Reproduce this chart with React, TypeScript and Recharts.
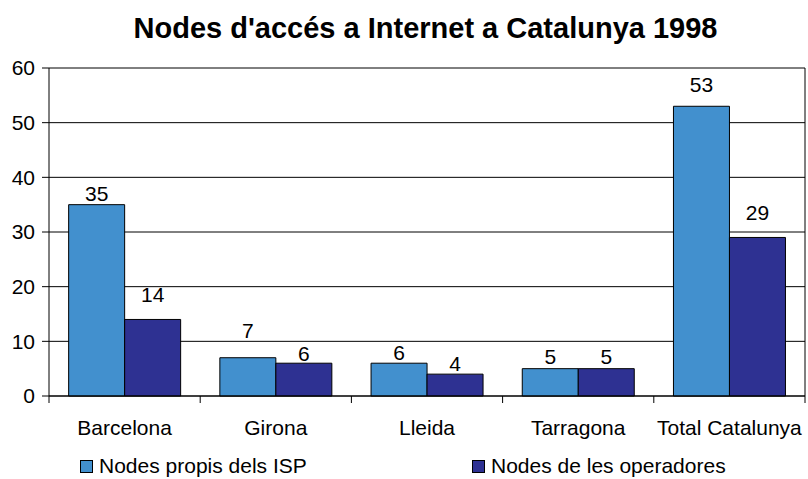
import React from "react";
import {
  BarChart,
  Bar,
  XAxis,
  YAxis,
  CartesianGrid,
  LabelList,
  Legend,
} from "recharts";

const categories = ["Barcelona", "Girona", "Lleida", "Tarragona", "Total Catalunya"];
const ispNodes = [35, 7, 6, 5, 53];
const operatorNodes = [14, 6, 4, 5, 29];
const yTicks = [0, 10, 20, 30, 40, 50, 60];
const seriesNames = ["Nodes propis dels ISP", "Nodes de les operadores"];

// label gaps above bar tops (styling, as placed in the original)
const ispLabelGap = [4, 20, 3, 5, 14];
const opsLabelGap = [17, 2, 3, 5, 17];

const data = categories.map((c, i) => ({
  name: c,
  isp: ispNodes[i],
  ops: operatorNodes[i],
}));

const FONT = "'Liberation Sans', Arial, Helvetica, sans-serif";
const LIGHT = "#4290CE";
const DARK = "#2E3192";

const EdgeTick = (props: any) => {
  const { x, y, payload, index, visibleTicksCount } = props;
  const half = payload.offset || 0;
  const isLast = index === visibleTicksCount - 1;
  return (
    <g>
      <line x1={x - half} x2={x - half} y1={y} y2={y + 7} stroke="#000" />
      {isLast && <line x1={x + half} x2={x + half} y1={y} y2={y + 7} stroke="#000" />}
      <text x={x} y={y + 24} dy="0.71em" textAnchor="middle" fontSize={21} fontFamily={FONT} fill="#000">
        {payload.value}
      </text>
    </g>
  );
};

const makeLabel = (gaps: number[]) => (props: any) => {
  const { x, y, width, value, index } = props;
  const gap = gaps[index] ?? 4;
  return (
    <text
      x={Number(x) + Number(width) / 2}
      y={Number(y) - gap}
      textAnchor="middle"
      fontSize={21}
      fontFamily={FONT}
      fill="#000"
    >
      {value}
    </text>
  );
};

const LegendContent = () => (
  <div style={{ position: "relative", width: 808, height: 26, fontFamily: FONT, fontSize: 21, color: "#000" }}>
    {[LIGHT, DARK].map((col, i) => (
      <div
        key={i}
        style={{
          position: "absolute",
          left: i === 0 ? 80 : 472,
          top: 0,
          display: "flex",
          alignItems: "center",
          whiteSpace: "nowrap",
          lineHeight: "26px",
        }}
      >
        <span
          style={{
            display: "inline-block",
            width: 11,
            height: 11,
            background: col,
            border: "1px solid #000",
            marginRight: 6,
          }}
        />
        <span>{seriesNames[i]}</span>
      </div>
    ))}
  </div>
);

export default function App() {
  return (
    <div style={{ position: "absolute", left: 0, top: 0, width: 808, height: 479, background: "#fff" }}>
      <div
        style={{
          position: "absolute",
          left: 0,
          top: 10,
          width: 851,
          textAlign: "center",
          fontFamily: FONT,
          fontWeight: "bold",
          fontSize: 29,
          lineHeight: "36px",
          color: "#000",
        }}
      >
        Nodes d'accés a Internet a Catalunya 1998
      </div>
      <BarChart
        width={808}
        height={479}
        data={data}
        margin={{ top: 68, right: 0, left: 0, bottom: 0 }}
        barCategoryGap="13%"
        barGap={0}
      >
        <CartesianGrid vertical={false} stroke="#000" strokeDasharray="" />
        <XAxis
          dataKey="name"
          height={57}
          axisLine={{ stroke: "#000" }}
          tickLine={false}
          tickSize={0}
          tickMargin={0}
          interval={0}
          tick={<EdgeTick />}
        />
        <YAxis
          width={49}
          domain={[0, 60]}
          ticks={yTicks}
          interval={0}
          axisLine={{ stroke: "#000" }}
          tickLine={{ stroke: "#000" }}
          tickSize={7}
          tickMargin={7}
          tick={{ fontSize: 21, fontFamily: FONT, fill: "#000" }}
        />
        <YAxis
          yAxisId="right"
          orientation="right"
          width={3}
          domain={[0, 60]}
          tick={false}
          tickLine={false}
          axisLine={{ stroke: "#000" }}
        />
        <Legend
          verticalAlign="bottom"
          content={<LegendContent />}
          wrapperStyle={{ left: 0, bottom: 0, width: 808, height: 26 }}
        />
        <Bar dataKey="isp" name={seriesNames[0]} fill={LIGHT} stroke="#000" strokeWidth={1} isAnimationActive={false}>
          <LabelList dataKey="isp" content={makeLabel(ispLabelGap)} />
        </Bar>
        <Bar dataKey="ops" name={seriesNames[1]} fill={DARK} stroke="#000" strokeWidth={1} isAnimationActive={false}>
          <LabelList dataKey="ops" content={makeLabel(opsLabelGap)} />
        </Bar>
      </BarChart>
    </div>
  );
}
